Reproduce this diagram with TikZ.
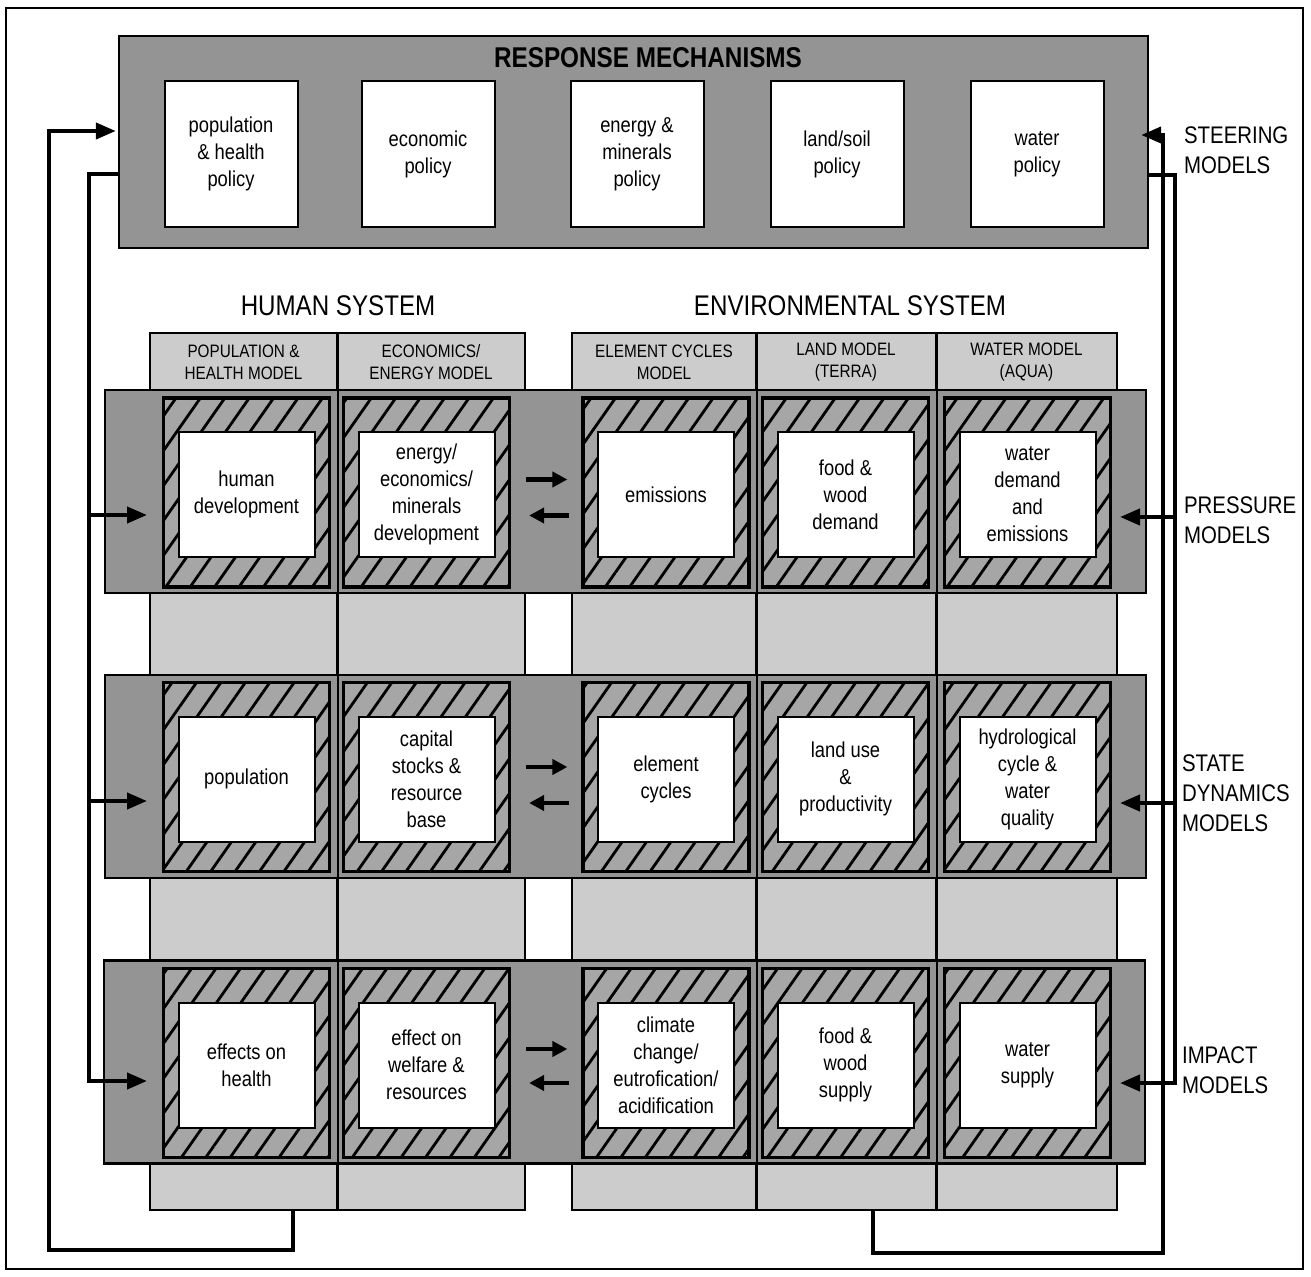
\documentclass[tikz,border=0pt]{standalone}
\usepackage{fontspec}
\setmainfont{Liberation Sans}[FakeStretch=0.85]
\usepackage{tikz}
\usetikzlibrary{arrows.meta,patterns.meta}

\begin{document}
\begin{tikzpicture}[x=0.5pt,y=-0.5pt,
  txt/.style={font=\fontsize{10.8}{13.5}\selectfont,align=center},
  respbox/.style={draw,line width=1.2pt,fill=black!42,inner sep=0pt,
                  minimum width=514.5pt,minimum height=106pt},
  policy/.style={txt,draw,line width=1pt,fill=white,inner sep=0pt,
                 minimum width=66.5pt,minimum height=73pt},
  colbox/.style={draw,line width=0.9pt,fill=black!20,inner sep=0pt,
                 minimum height=438.5pt},
  colhead/.style={align=center,font=\fontsize{9}{11}\selectfont},
  band/.style={draw,line width=1.1pt,fill=black!42,inner sep=0pt,
               minimum width=520.5pt,minimum height=101.5pt},
  hatchfr/.style={draw,line width=1.6pt,fill=black!35,inner sep=0pt,
                  minimum width=83pt,minimum height=94.5pt,
                  postaction={pattern={Lines[angle=55,distance=10pt,line width=1.4pt]}}},
  cell/.style={txt,draw,line width=1pt,fill=white,inner sep=0pt,
               minimum width=68pt,minimum height=62.5pt},
  syslabel/.style={font=\fontsize{14.2}{16}\selectfont},
  side/.style={anchor=west,align=left,font=\fontsize{12}{15}\selectfont},
  sep/.style={line width=0.9pt},
  fbarrow/.style={line width=2pt,-{Triangle[length=10pt,width=8pt]}},
  duo/.style={line width=2.3pt,-{Triangle[length=7.5pt,width=7.5pt]}}]

  \useasboundingbox (0,0) rectangle (1311,1277);
  \draw[line width=0.8pt] (6,8) rectangle (1303,1269);

  % response mechanisms
  \node[respbox] (resp) at (633.5,142) {};
  \node[font=\bfseries\fontsize{14.3}{16}\selectfont] (resptitle) at (648,58) {RESPONSE MECHANISMS};
  \node[policy] (poppol)   at (231,154)  {population\\\& health\\policy};
  \node[policy] (ecopol)   at (428,154)  {economic\\policy};
  \node[policy] (enpol)    at (637,154)  {energy \&\\minerals\\policy};
  \node[policy] (landpol)  at (837,154)  {land/soil\\policy};
  \node[policy] (waterpol) at (1037,154) {water\\policy};

  \node[syslabel] (human) at (338,306) {HUMAN SYSTEM};
  \node[syslabel] (envir) at (850,306) {ENVIRONMENTAL SYSTEM};

  % model columns
  \node[colbox,minimum width=93.5pt] (col1) at (243.5,771.5) {};
  \node[colbox,minimum width=94pt]   (col2) at (431,771.5)   {};
  \node[colbox,minimum width=92pt]   (col3) at (664,771.5)   {};
  \node[colbox,minimum width=90pt]   (col4) at (846,771.5)   {};
  \node[colbox,minimum width=90.5pt] (col5) at (1026.5,771.5){};
  \node[colhead] (hd1) at (243.5,362) {POPULATION \&\\HEALTH MODEL};
  \node[colhead] (hd2) at (431,362)   {ECONOMICS/\\ENERGY MODEL};
  \node[colhead] (hd3) at (664,362)   {ELEMENT CYCLES\\MODEL};
  \node[colhead] (hd4) at (846,362)   {LAND MODEL\\(TERRA)};
  \node[colhead] (hd5) at (1026.5,362){WATER MODEL\\(AQUA)};

  % model rows
  \node[band] (press) at (625.5,491.5) {};
  \node[band] (state) at (625.5,776.5) {};
  \node[band] (impact) at (624.5,1062) {};
  \draw[sep] (col1.north east) -- (col1.south east);
  \draw[sep] (col3.north east) -- (col3.south east);
  \draw[sep] (col4.north east) -- (col4.south east);

  \node[hatchfr] (fr11) at (246.5,492.5) {};
  \node[hatchfr] (fr12) at (426.5,492.5) {};
  \node[hatchfr] (fr13) at (666,492.5)   {};
  \node[hatchfr] (fr14) at (845.5,492.5) {};
  \node[hatchfr] (fr15) at (1027.5,492.5){};
  \node[hatchfr] (fr21) at (246.5,777)   {};
  \node[hatchfr] (fr22) at (426.5,777)   {};
  \node[hatchfr] (fr23) at (666,777)     {};
  \node[hatchfr] (fr24) at (845.5,777)   {};
  \node[hatchfr] (fr25) at (1027.5,777)  {};
  \node[hatchfr] (fr31) at (246.5,1063)  {};
  \node[hatchfr] (fr32) at (426.5,1063)  {};
  \node[hatchfr] (fr33) at (666,1063)    {};
  \node[hatchfr] (fr34) at (845.5,1063)  {};
  \node[hatchfr] (fr35) at (1027.5,1063) {};

  \node[cell] (hdev)     at ([yshift=-1pt]fr11) {human\\development};
  \node[cell] (energy)   at ([yshift=-1pt]fr12) {energy/\\economics/\\minerals\\development};
  \node[cell] (emis)     at ([yshift=-1pt]fr13) {emissions};
  \node[cell] (fooddem)  at ([yshift=-1pt]fr14) {food \&\\wood\\demand};
  \node[cell] (waterdem) at ([yshift=-1pt]fr15) {water\\demand\\and\\emissions};
  \node[cell] (pop)      at ([yshift=-1pt]fr21) {population};
  \node[cell] (capital)  at ([yshift=-1pt]fr22) {capital\\stocks \&\\resource\\base};
  \node[cell] (elem)     at ([yshift=-1pt]fr23) {element\\cycles};
  \node[cell] (landuse)  at ([yshift=-1pt]fr24) {land use\\\&\\productivity};
  \node[cell] (hydro)    at ([yshift=-1pt]fr25) {hydrological\\cycle \&\\water\\quality};
  \node[cell] (health)   at ([yshift=-1pt]fr31) {effects on\\health};
  \node[cell] (welfare)  at ([yshift=-1pt]fr32) {effect on\\welfare \&\\resources};
  \node[cell] (climate)  at ([yshift=-1pt]fr33) {climate\\change/\\eutrofication/\\acidification};
  \node[cell] (foodsup)  at ([yshift=-1pt]fr34) {food \&\\wood\\supply};
  \node[cell] (watersup) at ([yshift=-1pt]fr35) {water\\supply};

  % human <-> environment
  \draw[duo] ([xshift=7.5pt,yshift=6.5pt]fr12.east) -- ([xshift=-7pt,yshift=6.5pt]fr13.west);
  \draw[duo] ([xshift=-6pt,yshift=-11.5pt]fr13.west) -- ([xshift=9pt,yshift=-11.5pt]fr12.east);
  \draw[duo] ([xshift=7.5pt,yshift=5pt]fr22.east) -- ([xshift=-7pt,yshift=5pt]fr23.west);
  \draw[duo] ([xshift=-6pt,yshift=-13pt]fr23.west) -- ([xshift=9pt,yshift=-13pt]fr22.east);
  \draw[duo] ([xshift=7.5pt,yshift=7pt]fr32.east) -- ([xshift=-7pt,yshift=7pt]fr33.west);
  \draw[duo] ([xshift=-6pt,yshift=-10pt]fr33.west) -- ([xshift=9pt,yshift=-10pt]fr32.east);

  % feedback, left
  \coordinate (lbus) at (89,174);
  \coordinate (lret) at (49,131);
  \coordinate (inP) at (147,515);
  \coordinate (inS) at (147,801);
  \coordinate (inI) at (147,1081);
  \draw[fbarrow] ([yshift=-16pt]resp.west) -- (lbus) |- (inI);
  \draw[fbarrow] (lbus |- inP) -- (inP);
  \draw[fbarrow] (lbus |- inS) -- (inS);
  \draw[fbarrow] ([xshift=24.75pt]col1.south) -- ++(0,-19.5pt) -| (lret)
                 -- ([xshift=-1pt,yshift=5.5pt]resp.west);

  % feedback, right
  \coordinate (rbus) at (1175,175);
  \coordinate (rret) at (1163,135);
  \coordinate (outP) at (1120,517);
  \coordinate (outS) at (1120,803);
  \coordinate (outI) at (1120,1083);
  \draw[fbarrow] ([yshift=-16.5pt]resp.east) -- (rbus) |- (outI);
  \draw[fbarrow] (rbus |- outP) -- (outP);
  \draw[fbarrow] (rbus |- outS) -- (outS);
  \draw[fbarrow] ([xshift=13.5pt]col4.south) -- ++(0,-21pt) -| (rret)
                 -- ([xshift=-4pt,yshift=3.5pt]resp.east);

  \node[side] (steer)  at (1177,150) {STEERING\\MODELS};
  \node[side] (pressl) at (1177,520) {PRESSURE\\MODELS};
  \node[side] (statel) at (1175,793) {STATE\\DYNAMICS\\MODELS};
  \node[side] (impl)   at (1175,1070){IMPACT\\MODELS};

\end{tikzpicture}
\end{document}
